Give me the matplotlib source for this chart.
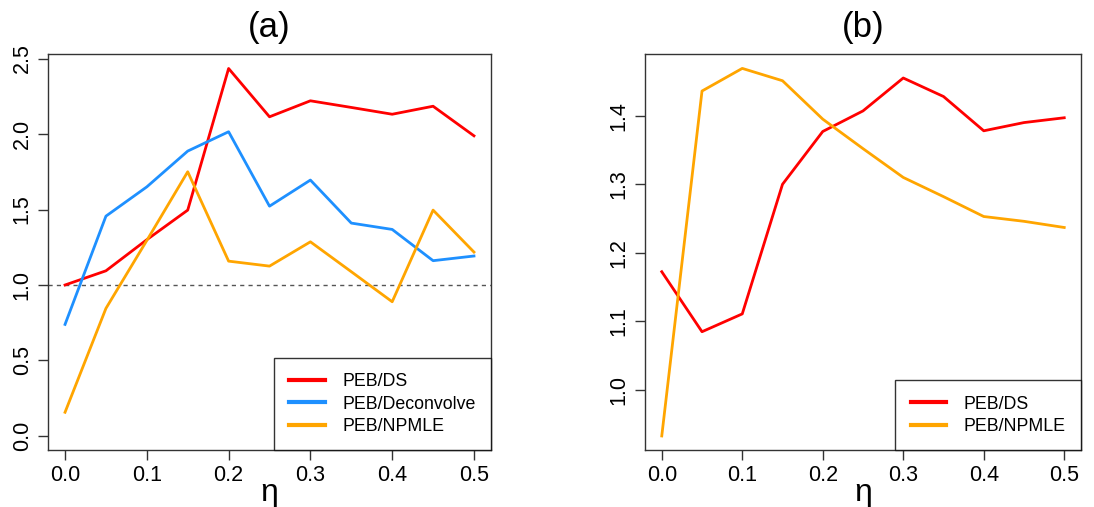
import matplotlib.pyplot as plt

plt.rcParams['font.family'] = ['Liberation Sans', 'DejaVu Sans']

eta = [0.0, 0.05, 0.1, 0.15, 0.2, 0.25, 0.3, 0.35, 0.4, 0.45, 0.5]

# panel (a): ratios
a_ds = [1.00, 1.094, 1.30, 1.496, 2.434, 2.114, 2.22, 2.176, 2.131, 2.184, 1.988]
a_deconv = [0.739, 1.456, 1.650, 1.887, 2.015, 1.522, 1.695, 1.41, 1.368, 1.161, 1.192]
a_npmle = [0.157, 0.845, 1.295, 1.75, 1.158, 1.125, 1.286, 1.088, 0.889, 1.496, 1.218]

# panel (b)
b_ds = [1.1725, 1.085, 1.111, 1.300, 1.377, 1.407, 1.455, 1.428, 1.378, 1.390, 1.397]
b_npmle = [0.933, 1.436, 1.469, 1.451, 1.395, 1.352, 1.310, 1.282, 1.253, 1.246, 1.237]

x_ticks = [0.0, 0.1, 0.2, 0.3, 0.4, 0.5]
a_yticks = [0.0, 0.5, 1.0, 1.5, 2.0, 2.5]
b_yticks = [1.0, 1.1, 1.2, 1.3, 1.4]

RED = '#FF0000'
BLUE = '#1E90FF'
ORANGE = '#FFA500'
BOX = '#333333'


def r_style(ax, yticks):
    for s in ax.spines.values():
        s.set_color(BOX)
        s.set_linewidth(1.0)
    ax.set_xticks(x_ticks)
    ax.set_xticklabels(['%.1f' % t for t in x_ticks])
    ax.set_yticks(yticks)
    ax.set_yticklabels(['%.1f' % t for t in yticks], rotation=90, va='center')
    ax.tick_params(direction='out', length=7, width=1.0, color=BOX,
                   labelsize=15.5, pad=4)
    ax.set_xlim(-0.0208, 0.5208)
    ax.set_xlabel('η', fontsize=23, labelpad=-6)


fig = plt.figure(figsize=(10.94, 5.07), dpi=100)
ax1 = fig.add_axes([0.0439, 0.1124, 0.4049, 0.7811])
ax2 = fig.add_axes([0.5896, 0.1124, 0.3985, 0.7811])

lw = 2.0
ax1.axhline(1.0, color='#555555', lw=1.0, linestyle=(0, (3, 3)))
ax1.plot(eta, a_ds, color=RED, lw=lw, label='PEB/DS')
ax1.plot(eta, a_deconv, color=BLUE, lw=lw, label='PEB/Deconvolve')
ax1.plot(eta, a_npmle, color=ORANGE, lw=lw, label='PEB/NPMLE')
ax1.set_ylim(-0.093, 2.53)
r_style(ax1, a_yticks)
ax1.set_title('(a)', fontsize=25, pad=12)

ax2.plot(eta, b_ds, color=RED, lw=lw, label='PEB/DS')
ax2.plot(eta, b_npmle, color=ORANGE, lw=lw, label='PEB/NPMLE')
ax2.set_ylim(0.9125, 1.49)
r_style(ax2, b_yticks)
ax2.set_title('(b)', fontsize=25, pad=12)

for ax in (ax1, ax2):
    leg = ax.legend(loc='lower right', fontsize=12.8, frameon=True, fancybox=False,
                    borderaxespad=0, handlelength=2.0, handletextpad=1.0,
                    labelspacing=0.3, borderpad=0.85)
    leg.get_frame().set_edgecolor('black')
    leg.get_frame().set_linewidth(1.0)
    for line in leg.get_lines():
        line.set_linewidth(3)

fig.savefig('out.png', dpi=100)
